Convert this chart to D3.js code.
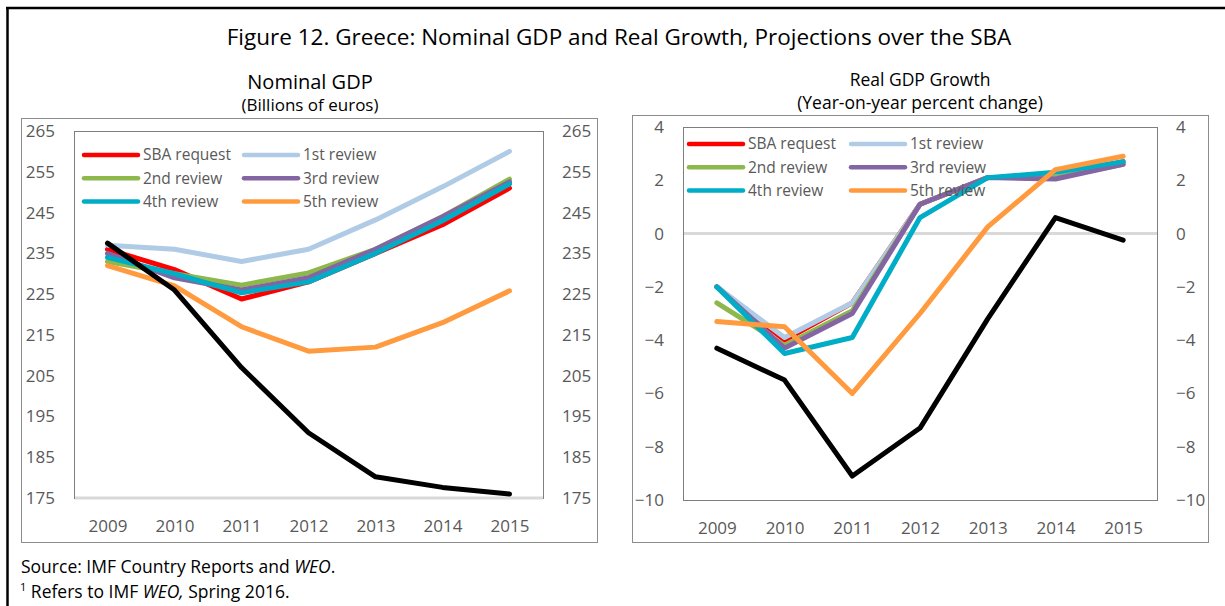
<!DOCTYPE html>
<html lang="en">
<head>
	<meta charset="UTF-8"/>
	<title>Figure 12. Greece: Nominal GDP and Real Growth</title>
	<script src="https://d3js.org/d3.v7.min.js"></script>
	<style>
		body { margin: 0; background: #fff; }
		text { font-family: "Open Sans", "Noto Sans", sans-serif; }
	</style>
</head>
<body>
<script>
	var years = ["2009","2010","2011","2012","2013","2014","2015"];
	var seriesNames = ["SBA request","1st review","2nd review","3rd review","4th review","5th review"];
	var seriesColors = ["#ff0000","#b0cbe5","#8cb84c","#8465a4","#00adc6","#ff9a3e"];

	// Nominal GDP, billions of euros
	var nominalSBA = [236,231,223.8,228,235,242,251];
	var nominal1st = [237,236,233,236,243.2,251.3,260];
	var nominal2nd = [233,230,227.2,230.2,236,244,253.2];
	var nominal3rd = [235,229,226,229,236,244,252.5];
	var nominal4th = [234,230,225.3,228,235,243,252];
	var nominal5th = [232,227,217,211,212,218,225.8];
	var nominalActual = [237.5,226,207,191,180.2,177.6,176];
	var nominalTicks = [175,185,195,205,215,225,235,245,255,265];

	// Real GDP growth, percent
	var growthSBA = [-2.0,-4.0,-2.6,1.1,2.1,2.1,2.7];
	var growth1st = [-2.0,-3.9,-2.6,1.1,2.1,2.1,2.7];
	var growth2nd = [-2.6,-4.2,-2.9,1.1,2.1,2.1,2.6];
	var growth3rd = [-2.0,-4.3,-3.0,1.1,2.1,2.05,2.6];
	var growth4th = [-2.0,-4.5,-3.9,0.6,2.1,2.3,2.7];
	var growth5th = [-3.3,-3.5,-6.0,-3.0,0.25,2.4,2.9];
	var growthActual = [-4.3,-5.5,-9.1,-7.3,-3.2,0.6,-0.25];
	var growthTicks = [-10,-8,-6,-4,-2,0,2,4];

	var w = 1225;
	var h = 606;
	var labelColor = "#595959";

	var svg = d3.select("body").append("svg").attr("width",w).attr("height",h);

	// outer frame (only top and left edges fall inside the picture)
	svg.append("line").attr("x1",6).attr("y1",8).attr("x2",w).attr("y2",8)
		.attr("stroke","#000").attr("stroke-width",2.5);
	svg.append("line").attr("x1",7.5).attr("y1",8).attr("x2",7.5).attr("y2",h)
		.attr("stroke","#000").attr("stroke-width",2.5);

	svg.append("text")
		.attr("x",619).attr("y",45)
		.attr("text-anchor","middle")
		.attr("font-size","22.5px")
		.attr("fill","#000")
		.text("Figure 12. Greece: Nominal GDP and Real Growth, Projections over the SBA");

	function drawPanel(p){
		var g = svg.append("g");

		g.append("text").attr("x",p.titleX).attr("y",p.titleY)
			.attr("text-anchor","middle").attr("font-size",p.titleSize).attr("fill","#000")
			.text(p.title);
		g.append("text").attr("x",p.titleX).attr("y",p.subY)
			.attr("text-anchor","middle").attr("font-size",p.subSize).attr("fill","#000")
			.text(p.subtitle);

		// chart box
		g.append("rect")
			.attr("x",p.box[0]+0.5).attr("y",p.box[1]+0.5)
			.attr("width",p.box[2]-p.box[0]).attr("height",p.box[3]-p.box[1])
			.attr("fill","none").attr("stroke","#8c8c8c").attr("stroke-width",1);

		var xScale = d3.scalePoint()
						.domain(years)
						.range([p.left,p.right])
						.padding(0.5);

		var yScale = d3.scaleLinear()
						.domain(d3.extent(p.ticks))
						.range([p.bottom,p.top]);

		// plot area border
		g.append("rect")
			.attr("x",p.left+0.5).attr("y",p.top+0.5)
			.attr("width",p.right-p.left).attr("height",p.bottom-p.top)
			.attr("fill","none").attr("stroke","#7f7f7f").attr("stroke-width",1);

		// horizontal axis line (at 0, or at the minimum)
		var base = p.ticks[0] < 0 ? 0 : p.ticks[0];
		g.append("line")
			.attr("x1",p.left+1).attr("x2",p.right)
			.attr("y1",yScale(base)).attr("y2",yScale(base))
			.attr("stroke","#d9d9d9").attr("stroke-width",3);

		var leftAxis = d3.axisLeft(yScale).tickValues(p.ticks).tickSize(0).tickPadding(19);
		var rightAxis = d3.axisRight(yScale).tickValues(p.ticks).tickSize(0).tickPadding(19);
		var bottomAxis = d3.axisBottom(xScale).tickSize(0).tickPadding(22);

		[g.append("g").attr("transform","translate(" + p.left + ",0)").call(leftAxis),
		 g.append("g").attr("transform","translate(" + p.right + ",0)").call(rightAxis),
		 g.append("g").attr("transform","translate(0," + p.bottom + ")").call(bottomAxis)]
			.forEach(function(a){
				a.select(".domain").remove();
				a.selectAll("text")
					.attr("font-size","17px")
					.attr("fill",labelColor)
					.attr("font-family","\"Open Sans\", sans-serif");
			});

		var line = d3.line()
			.x(function(d,i){ return xScale(years[i]); })
			.y(function(d){ return yScale(d); });

		p.series.forEach(function(s,i){
			g.append("path")
				.attr("d",line(s))
				.attr("fill","none")
				.attr("stroke",seriesColors[i])
				.attr("stroke-width",5)
				.attr("stroke-linejoin","round")
				.attr("stroke-linecap","round");
		});

		g.append("path")
			.attr("d",line(p.actual))
			.attr("fill","none")
			.attr("stroke","#000")
			.attr("stroke-width",5)
			.attr("stroke-linejoin","round")
			.attr("stroke-linecap","round");

		// legend, two columns and three rows
		seriesNames.forEach(function(name,i){
			var col = i % 2;
			var row = Math.floor(i / 2);
			var lx = p.legendX[col];
			var ly = p.legendY + row * 23.3;
			g.append("line")
				.attr("x1",lx).attr("x2",lx + 54)
				.attr("y1",ly).attr("y2",ly)
				.attr("stroke",seriesColors[i])
				.attr("stroke-width",4.5)
				.attr("stroke-linecap","round");
			g.append("text")
				.attr("x",lx + 59).attr("y",ly)
				.attr("dy","0.35em")
				.attr("font-size","15.5px")
				.attr("fill",labelColor)
				.text(name);
		});
	}

	drawPanel({
		title:"Nominal GDP", titleSize:"20px", subtitle:"(Billions of euros)", subSize:"17px",
		titleX:310, titleY:89, subY:111,
		box:[21,118,597,542],
		left:74, right:543, top:131, bottom:498,
		ticks:nominalTicks,
		series:[nominalSBA,nominal1st,nominal2nd,nominal3rd,nominal4th,nominal5th],
		actual:nominalActual,
		legendX:[84,244], legendY:155
	});

	drawPanel({
		title:"Real GDP Growth", titleSize:"17.5px", subtitle:"(Year-on-year percent change)", subSize:"17.5px",
		titleX:920, titleY:86, subY:109,
		box:[632,115,1208,542],
		left:683, right:1157, top:127, bottom:500,
		ticks:growthTicks,
		series:[growthSBA,growth1st,growth2nd,growth3rd,growth4th,growth5th],
		actual:growthActual,
		legendX:[689,851], legendY:144
	});

	// notes
	var notes = svg.append("text").attr("x",21).attr("y",573)
		.attr("font-size","17.5px").attr("fill","#000");
	notes.append("tspan").text("Source: IMF Country Reports and ");
	notes.append("tspan").attr("font-style","italic").text("WEO");
	notes.append("tspan").text(".");

	var foot = svg.append("text").attr("x",20).attr("y",598)
		.attr("font-size","17.5px").attr("fill","#000");
	foot.append("tspan").attr("font-size","11px").attr("dy","-7").text("1");
	foot.append("tspan").attr("dy","7").text(" Refers to IMF ");
	foot.append("tspan").attr("font-style","italic").text("WEO,");
	foot.append("tspan").text(" Spring 2016.");
</script>
</body>
</html>
